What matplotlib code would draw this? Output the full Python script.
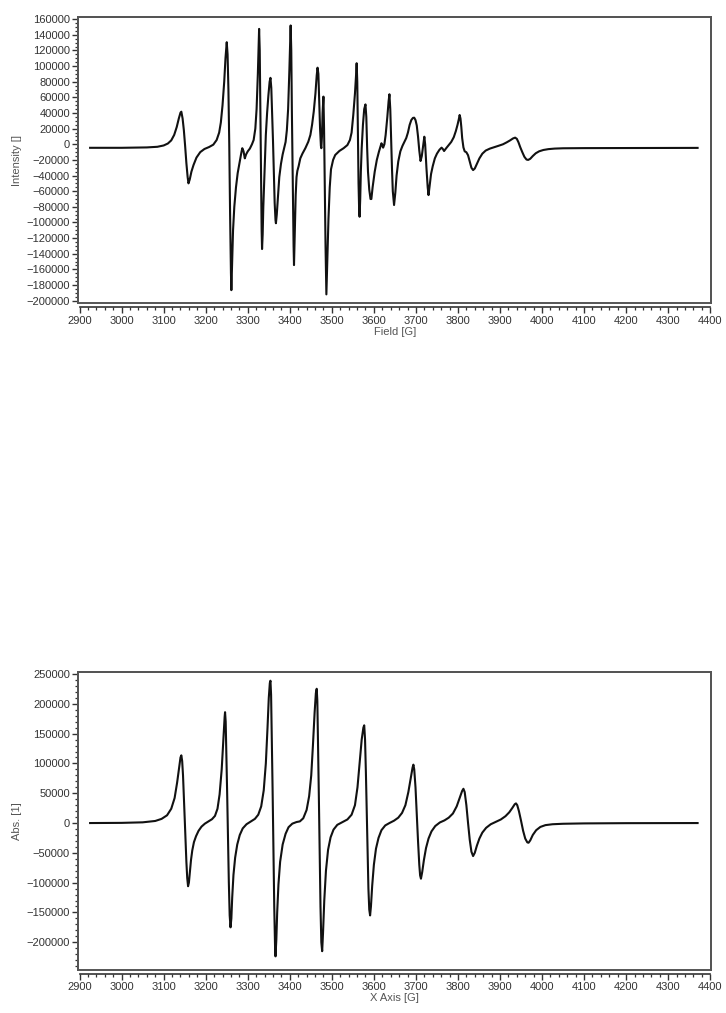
import matplotlib
matplotlib.use("Agg")
import matplotlib.pyplot as plt
from matplotlib.ticker import MultipleLocator
from matplotlib.patches import Rectangle

plt.rcParams['font.family'] = ['Liberation Sans', 'DejaVu Sans']

field_exp = [
    2925, 3000, 3060, 3085, 3100, 3110, 3118, 3125, 3131, 3136, 3140, 3142, 3145, 3148,
    3151, 3154, 3157, 3159, 3162, 3166, 3171, 3178, 3187, 3197, 3208, 3218, 3226, 3232,
    3236, 3240, 3244, 3247, 3250, 3252, 3254, 3256, 3258, 3260, 3261, 3263, 3265, 3268,
    3272, 3276, 3281, 3285, 3287, 3290, 3293, 3296, 3300, 3305, 3310, 3314, 3318, 3321,
    3324, 3326, 3327, 3328.5, 3330, 3331.5, 3333, 3334, 3335.5, 3337, 3339, 3341, 3343, 3346,
    3349, 3352, 3354, 3356, 3358, 3360, 3362, 3364, 3366, 3367, 3369, 3372, 3375, 3379,
    3383, 3387, 3390, 3393, 3396, 3399, 3401, 3402, 3403.5, 3405, 3407, 3409, 3410, 3412,
    3414, 3416, 3418, 3421, 3425, 3430, 3437, 3444, 3449, 3453, 3457, 3461, 3464, 3466,
    3468, 3470, 3472, 3474, 3475, 3476.5, 3478, 3480, 3481.5, 3483, 3485, 3487, 3489, 3492,
    3495, 3498, 3503, 3508, 3518, 3528, 3537, 3543, 3547, 3551, 3555, 3558, 3559, 3560.5,
    3562, 3563.5, 3565, 3566, 3567.5, 3569, 3571, 3574, 3577, 3580, 3582, 3584, 3586, 3589,
    3592, 3594, 3597, 3602, 3607, 3612, 3616, 3618, 3620, 3622, 3625, 3628, 3632, 3635,
    3637, 3639, 3641, 3643, 3645, 3648, 3651, 3654, 3658, 3663, 3668, 3673, 3677, 3681,
    3685, 3689, 3693, 3696, 3699, 3702, 3705, 3708, 3711, 3714, 3717, 3720, 3722, 3725,
    3728, 3730, 3733, 3736, 3740, 3745, 3750, 3756, 3761, 3764, 3767, 3772, 3778, 3784,
    3790, 3795, 3799, 3802, 3804, 3806, 3808, 3810, 3813, 3816, 3820, 3824, 3828, 3832,
    3836, 3840, 3845, 3851, 3858, 3866, 3876, 3886, 3896, 3907, 3916, 3924, 3931, 3936,
    3940, 3944, 3948, 3953, 3958, 3963, 3967, 3972, 3978, 3985, 3993, 4003, 4015, 4030,
    4050, 4100, 4200, 4300, 4370]
intensity_exp = [
    -4500, -4500, -4000, -3200, -1500, 1000, 5000, 12000, 22000, 33000, 40500, 41700, 33000, 18000,
    -2000, -24000, -42000, -50000, -45000, -35000, -26500, -17000, -10000, -6000, -3500, -500, 5500, 15000,
    28000, 50000, 80000, 110000, 130600, 115000, 70000, 0, -90000, -165000, -186600, -150000, -110000, -80000,
    -55000, -37000, -22000, -10000, -5000, -9000, -18000, -13000, -9000, -5500, 0, 5500, 20000, 45000,
    90000, 130000, 147600, 120000, 40000, -40000, -110000, -134000, -115000, -80000, -48000, -15000, 12000, 40000,
    62000, 80000, 85000, 72000, 40000, 5000, -35000, -75000, -97000, -101000, -90000, -65000, -42000, -25000,
    -13000, -4000, 3000, 18000, 45000, 95000, 135000, 152000, 120000, 40000, -50000, -130000, -154500, -110000,
    -65000, -42000, -34000, -28000, -18000, -12000, -5000, 3300, 12000, 25000, 42000, 65000, 88000, 98000,
    90000, 55000, 20000, -2000, -5000, 10000, 40000, 61000, 20000, -48000, -130000, -192000, -155000, -95000,
    -55000, -32000, -20000, -13700, -8500, -5000, -1000, 5500, 15000, 37500, 65000, 92000, 103700, 80000,
    20000, -50000, -85000, -92700, -70000, -35000, -5000, 25000, 45000, 51000, 35000, -5000, -35000, -58000,
    -70000, -70000, -55000, -35000, -20000, -9500, -2000, 1300, -1000, -4300, 0, 12000, 35000, 55000,
    64000, 45000, 5000, -30000, -60000, -77700, -62000, -40000, -22000, -9000, -2000, 3500, 8000, 15000,
    24700, 31000, 33800, 34000, 31000, 24000, 10000, -8000, -21400, -15000, -3000, 9700, 0, -30000,
    -55000, -65000, -52000, -38000, -28000, -18000, -12000, -7000, -4300, -6000, -8600, -5000, -1000, 3000,
    9000, 17000, 25000, 32000, 37500, 33000, 22000, 8000, -4000, -9000, -10200, -14000, -22000, -30000,
    -33000, -31000, -25000, -18000, -12000, -8000, -5500, -3800, -2000, 0, 2500, 5000, 7500, 8500,
    7000, 2500, -3500, -10000, -16000, -19500, -20000, -18500, -15000, -11500, -9000, -7300, -6200, -5500,
    -5100, -4900, -4800, -4700, -4600]

# simulated spectrum (bottom panel)
field_sim = [
    2925, 3000, 3050, 3080, 3095, 3108, 3118, 3126, 3132, 3137, 3140, 3142, 3144, 3146,
    3148, 3150, 3152, 3154, 3156, 3158, 3160, 3162, 3165, 3168, 3172, 3177, 3183, 3190,
    3198, 3207, 3215, 3222, 3228, 3233, 3238, 3242, 3245, 3246, 3247.5, 3249, 3251, 3253,
    3255, 3257, 3259, 3261, 3263, 3266, 3270, 3275, 3281, 3288, 3297, 3307, 3317, 3325,
    3332, 3338, 3343, 3347, 3350, 3352.5, 3354, 3355.5, 3357, 3359, 3361, 3363, 3365, 3366,
    3368, 3370, 3373, 3377, 3383, 3390, 3397, 3406, 3416, 3424, 3432, 3440, 3446, 3451,
    3455, 3459, 3462, 3464, 3465.5, 3467, 3469, 3471, 3473, 3475, 3477, 3479, 3482, 3486,
    3491, 3497, 3504, 3513, 3525, 3537, 3547, 3555, 3561, 3566, 3571, 3575, 3577, 3579,
    3581, 3583, 3585, 3587, 3589, 3591, 3593, 3596, 3600, 3605, 3611, 3618, 3627, 3637,
    3648, 3658, 3667, 3675, 3682, 3688, 3692, 3694, 3696, 3699, 3702, 3705, 3708, 3710,
    3712, 3715, 3719, 3724, 3730, 3737, 3746, 3757, 3768, 3778, 3788, 3797, 3804, 3810,
    3813, 3816, 3820, 3824, 3828, 3832, 3836, 3840, 3845, 3851, 3858, 3867, 3878, 3890,
    3902, 3913, 3922, 3929, 3935, 3938, 3941, 3945, 3950, 3955, 3960, 3965, 3968, 3972,
    3978, 3986, 3996, 4008, 4025, 4050, 4100, 4200, 4300, 4370]
abs_sim = [
    0, 300, 1200, 3500, 7000, 13000, 24000, 42000, 68000, 95000, 110000, 113600, 104000, 80000,
    45000, 8000, -30000, -65000, -92000, -106000, -100000, -84000, -62000, -46000, -32000, -22000, -13000, -6000,
    -1000, 3000, 6500, 12000, 24000, 48000, 90000, 140000, 178000, 186000, 170000, 120000, 50000, -30000,
    -100000, -155000, -175000, -160000, -125000, -87000, -58000, -36000, -20000, -9000, -2000, 2500, 7000, 14000,
    28000, 55000, 100000, 160000, 210000, 235000, 238800, 215000, 150000, 60000, -40000, -140000, -210000, -223700,
    -195000, -150000, -103000, -65000, -36000, -18000, -7000, -1000, 1700, 2800, 8000, 22000, 45000, 80000,
    130000, 185000, 218000, 225300, 205000, 140000, 50000, -50000, -140000, -200000, -215000, -185000, -130000, -80000,
    -45000, -24000, -11000, -3000, 1500, 6000, 14000, 30000, 60000, 100000, 140000, 160000, 164000, 140000,
    85000, 20000, -50000, -110000, -145000, -155000, -140000, -105000, -70000, -43000, -25000, -12000, -4000, 0,
    4000, 9000, 17000, 30000, 52000, 76000, 93000, 98000, 90000, 60000, 15000, -30000, -70000, -88000,
    -93400, -82000, -62000, -42000, -26000, -14000, -5000, 1000, 4500, 9000, 16000, 28000, 42000, 54000,
    57500, 52000, 30000, 0, -28000, -48000, -55400, -50000, -38000, -26000, -16000, -8000, -2000, 2000,
    6000, 11500, 18000, 25000, 31500, 33000, 30000, 20000, 4000, -13000, -26000, -32500, -33000, -29000,
    -20000, -12000, -6500, -3500, -2000, -1200, -600, -200, 0, 0]

panels = [
    (field_exp, intensity_exp, 'Field [G]', 'Intensity []', (-203400, 163200), 20000, 5000,
     [0.1079, 0.7006, 0.8715, 0.2829]),
    (field_sim, abs_sim, 'X Axis [G]', 'Abs. [1]', (-245800, 253400), 50000, 10000,
     [0.1079, 0.0429, 0.8715, 0.2937]),
]

fig = plt.figure(figsize=(7.26, 10.13), dpi=100)
label_color = '#555555'
frame_color = '#555555'

for xs, ys, xlabel, ylabel, ylim, ymajor, yminor, rect in panels:
    ax = fig.add_axes(rect)
    ax.plot(xs, ys, color='#111111', linewidth=1.5, solid_joinstyle='round')
    ax.set_xlim(2897, 4402)
    ax.set_ylim(*ylim)

    ax.xaxis.set_major_locator(MultipleLocator(100))
    ax.xaxis.set_minor_locator(MultipleLocator(20))
    ax.yaxis.set_major_locator(MultipleLocator(ymajor))
    ax.yaxis.set_minor_locator(MultipleLocator(yminor))

    for side in ['top', 'right', 'left']:
        ax.spines[side].set_color(frame_color)
        ax.spines[side].set_linewidth(1.4)
    # x axis sits just below the frame, like the instrument software draws it
    ax.spines['bottom'].set_position(('outward', 3))
    ax.spines['bottom'].set_bounds(2900, 4400)
    ax.spines['bottom'].set_color('#333333')
    ax.spines['bottom'].set_linewidth(1.2)
    ax.add_patch(Rectangle((0, 0), 1, 1, transform=ax.transAxes, fill=False,
                           edgecolor=frame_color, linewidth=1.4, clip_on=False))

    ax.tick_params(axis='both', which='major', direction='out', length=4, width=1,
                   color='#333333', labelsize=8, labelcolor='#333333', pad=2)
    ax.tick_params(axis='both', which='minor', direction='out', length=2.5, width=0.9,
                   color='#333333')
    ax.set_xlabel(xlabel, fontsize=8, color=label_color, labelpad=1)
    ax.set_ylabel(ylabel, fontsize=8, color=label_color, labelpad=3)

fig.savefig('out.png', dpi=100)
